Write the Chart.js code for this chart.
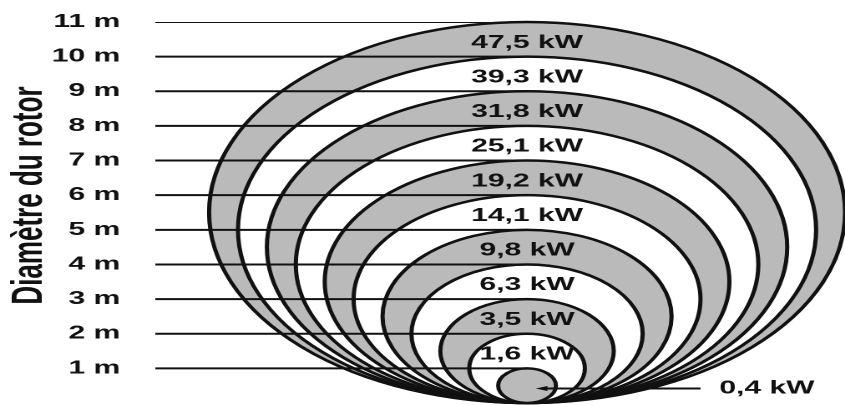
<!DOCTYPE html>
<html>
<head>
<meta charset="utf-8">
<script src="https://cdn.jsdelivr.net/npm/chart.js@4.4.1/dist/chart.umd.min.js"></script>
<style>
  html, body { margin: 0; padding: 0; background: #fff; overflow: hidden; }
  #wrap { width: 845px; height: 405px; overflow: hidden; }
  #c { transform: scaleX(1.67); transform-origin: 0 0; display: block; }
</style>
</head>
<body>
<div id="wrap"><canvas id="c" width="506" height="405"></canvas></div>
<script>
// Rotor diameters (m), largest first
const diameters = [11, 10, 9, 8, 7, 6, 5, 4, 3, 2, 1];
// Power for each diameter (kW)
const powers = [47.5, 39.3, 31.8, 25.1, 19.2, 14.1, 9.8, 6.3, 3.5, 1.6, 0.4];
// Axis tick labels
const tickValues = [1, 2, 3, 4, 5, 6, 7, 8, 9, 10, 11];
const tickUnit = ' m';
const axisTitle = 'Diamètre du rotor';

const X_MIN = -6.43, X_MAX = 5.5;
const INK = '#111111';
const GREY = '#bababa';
const FONT = 'Liberation Sans, Arial, sans-serif';

const fmt = v => v.toFixed(1).replace('.', ',') + ' kW';

const rings = {
  id: 'rings',
  beforeDatasetsDraw(chart) {
    const { ctx, scales: { x, y } } = chart;
    ctx.save();
    diameters.forEach(d => {
      const cx = x.getPixelForValue(0);
      const cy = y.getPixelForValue(d / 2);
      const ry = y.getPixelForValue(0) - cy;
      const rx = x.getPixelForValue(d / 2) - cx;
      ctx.beginPath();
      ctx.ellipse(cx, cy, rx, ry, 0, 0, Math.PI * 2);
      ctx.fillStyle = (d % 2) ? GREY : '#ffffff';
      ctx.fill();
      ctx.lineWidth = 2.5;
      ctx.strokeStyle = INK;
      ctx.stroke();
    });
    ctx.restore();
  },
  afterDatasetsDraw(chart) {
    const { ctx, scales: { x, y } } = chart;
    ctx.save();
    ctx.font = 'bold 18px ' + FONT;
    ctx.fillStyle = INK;
    ctx.textBaseline = 'middle';
    ctx.textAlign = 'center';
    diameters.forEach((d, i) => {
      if (d === 1) return;
      ctx.fillText(fmt(powers[i]), x.getPixelForValue(0), y.getPixelForValue(d - 0.6));
    });
    // smallest rotor: label outside with a pointer
    const i1 = diameters.indexOf(1);
    const ay = y.getPixelForValue(0.42);
    const x0 = x.getPixelForValue(0.15), x1 = x.getPixelForValue(3.0);
    ctx.strokeStyle = INK;
    ctx.lineWidth = 2;
    ctx.beginPath();
    ctx.moveTo(x0 + 6, ay);
    ctx.lineTo(x1, ay);
    ctx.stroke();
    ctx.beginPath();
    ctx.moveTo(x0, ay);
    ctx.lineTo(x0 + 7, ay - 2.5);
    ctx.lineTo(x0 + 7, ay + 2.5);
    ctx.closePath();
    ctx.fill();
    ctx.fillText(fmt(powers[i1]), x.getPixelForValue(4.15), ay);
    ctx.restore();
  }
};

const leaderSets = diameters.map(d => ({
  type: 'line',
  data: [{ x: X_MIN, y: d }, { x: 0, y: d }],
  borderColor: INK,
  borderWidth: 2,
  pointRadius: 0,
  fill: false
}));

function shifted(orig) {
  return function () {
    const t = this.top, b = this.bottom;
    this.top = t - 17; this.bottom = b - 17;
    orig.apply(this, arguments);
    this.top = t; this.bottom = b;
  };
}

function fitY(s) {
  s.width = 93;
  s.paddingTop = 0;
  s.paddingBottom = 0;
  if (!s._titleShift) {
    if (typeof s.drawTitle === 'function') s.drawTitle = shifted(s.drawTitle);
    else if (typeof s._drawTitle === 'function') s._drawTitle = shifted(s._drawTitle);
    s._titleShift = true;
  }
}

new Chart(document.getElementById('c'), {
  type: 'scatter',
  data: { datasets: leaderSets },
  plugins: [rings],
  options: {
    responsive: false,
    maintainAspectRatio: false,
    animation: false,
    devicePixelRatio: 2,
    layout: { padding: { top: 22, bottom: 2, left: 0, right: 0 } },
    plugins: { legend: { display: false }, tooltip: { enabled: false } },
    scales: {
      x: { type: 'linear', display: false, min: X_MIN, max: X_MAX },
      y: {
        type: 'linear',
        min: 0,
        max: 11,
        afterBuildTicks: s => { s.ticks = tickValues.map(v => ({ value: v })); },
        afterFit: fitY,
        ticks: {
          callback: v => v + tickUnit,
          font: { family: FONT, weight: 'bold', size: 18 },
          color: INK,
          padding: 21
        },
        grid: { display: false, drawTicks: false },
        border: { display: false },
        title: {
          display: true,
          text: axisTitle,
          color: INK,
          font: { family: FONT, weight: 'bold', size: 26 },
          padding: { top: 2, bottom: 0 }
        }
      }
    }
  }
});
</script>
</body>
</html>
